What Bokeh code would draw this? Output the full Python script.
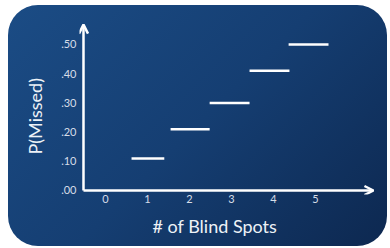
from bokeh.plotting import figure
from bokeh.models import Range1d, FixedTicker, Arrow, OpenHead, Title
from bokeh.embed import file_html
from bokeh.resources import INLINE

# data
blind_spots_start = [0.62, 1.55, 2.48, 3.43, 4.36]
blind_spots_end = [1.40, 2.48, 3.43, 4.38, 5.31]
p_missed = [0.11, 0.21, 0.30, 0.41, 0.50]
x_ticks = [0, 1, 2, 3, 4, 5]
y_ticks = [0.0, 0.1, 0.2, 0.3, 0.4, 0.5]
y_tick_labels = [".00", ".10", ".20", ".30", ".40", ".50"]

FONT = "Lato"
TICK_COLOR = "#d6dde8"
LABEL_COLOR = "#eef2f7"
X_AXIS_POS = -0.524   # where the vertical axis crosses
X_END, Y_END = 6.38, 0.568

p = figure(width=379, height=241, output_backend="svg", toolbar_location=None,
           x_range=Range1d(-0.619, 6.548), y_range=Range1d(-0.0137, 0.589),
           min_border_left=71, min_border_right=7, min_border_top=13, min_border_bottom=52)
p.border_fill_color = None
p.background_fill_color = None
p.outline_line_color = None
p.grid.visible = False
p.styles = {"background": "linear-gradient(135deg, #1b4c85 0%, #153e72 50%, #0d2850 100%)",
            "border-radius": "30px", "margin-left": "8px", "margin-top": "5px"}

for ax in (p.xaxis, p.yaxis):
    ax.axis_line_color = None
    ax.major_tick_line_color = None
    ax.minor_tick_line_color = None
    ax.major_tick_out = 0
    ax.major_tick_in = 0
    ax.minor_tick_out = 0
    ax.major_label_text_color = TICK_COLOR
    ax.major_label_text_font = FONT
    ax.major_label_text_font_size = "11px"

p.xaxis.ticker = FixedTicker(ticks=x_ticks)
p.xaxis.major_label_standoff = 0
p.yaxis.ticker = FixedTicker(ticks=y_ticks)
p.yaxis.major_label_overrides = {t: l for t, l in zip(y_ticks, y_tick_labels)}
p.yaxis.major_label_standoff = 3

# axis arrows
p.add_layout(Arrow(x_start=X_AXIS_POS, y_start=0, x_end=X_END, y_end=0,
                   line_color="white", line_width=2.5,
                   end=OpenHead(size=9, line_color="white", line_width=2.5)))
p.add_layout(Arrow(x_start=X_AXIS_POS, y_start=0, x_end=X_AXIS_POS, y_end=Y_END,
                   line_color="white", line_width=2.5,
                   end=OpenHead(size=9, line_color="white", line_width=2.5)))

p.segment(x0=blind_spots_start, y0=p_missed, x1=blind_spots_end, y1=p_missed,
          line_color="white", line_width=2.5)

p.add_layout(Title(text="# of Blind Spots", align="left", offset=73, standoff=15,
                   text_color=LABEL_COLOR, text_font=FONT, text_font_size="18px",
                   text_font_style="normal"), "below")
p.add_layout(Title(text="P(Missed)", align="left", offset=40, standoff=26,
                   text_color=LABEL_COLOR, text_font=FONT, text_font_size="18px",
                   text_font_style="normal"), "left")

open("out.html", "w").write(file_html(p, INLINE))
